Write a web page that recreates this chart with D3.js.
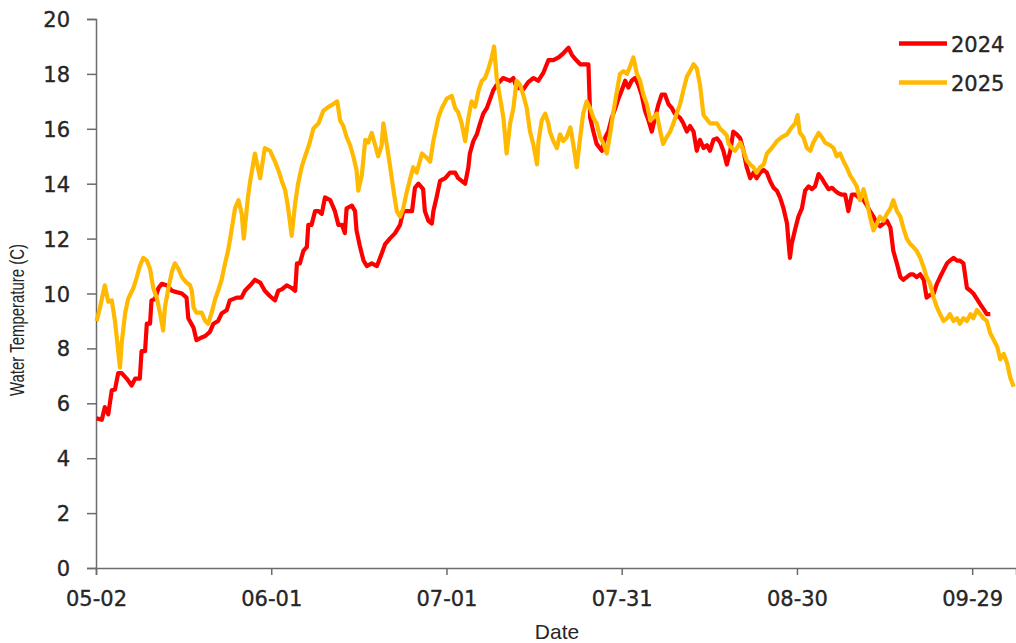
<!DOCTYPE html>
<html>
<head>
<meta charset="utf-8">
<script src="https://cdn.jsdelivr.net/npm/d3@7/dist/d3.min.js"></script>
<style>
  html, body { margin: 0; padding: 0; background: #fff; }
  svg { display: block; }
</style>
</head>
<body>
<svg id="chart" width="1016" height="643"></svg>
<script>
// Season axis: days since 05-02, labelled every 30 days
const tickDays = [0, 30, 60, 90, 120, 150];
const tickLabels = ["05-02", "06-01", "07-01", "07-31", "08-30", "09-29"];
const yTicks = [0, 2, 4, 6, 8, 10, 12, 14, 16, 18, 20];
const seriesNames = ["2024", "2025"];
const seriesColors = ["#ff0000", "#ffb900"];

// 2024 water temperature (C) by day offset from 05-02
const days2024 = [0.1, 1.0, 1.5, 2.1, 2.7, 3.25, 3.8, 4.4, 5.25, 6.1, 6.7, 7.5, 7.8, 8.4, 8.7, 9.25, 9.5, 10.1, 10.7, 11.25,
  12.1, 13.0, 13.8, 14.7, 15.5, 15.8, 16.7, 17.2, 18.1, 18.7, 19.5, 20.1, 20.9, 21.5, 22.4, 22.9, 24.1, 24.9, 25.5, 26.4,
  27.2, 28.1, 28.9, 29.8, 30.65, 31.2, 31.8, 32.65, 33.5, 34.1, 34.4, 34.9, 35.5, 36.1, 36.35, 36.9, 37.5, 38.1, 38.65, 39.2,
  40.1, 40.9, 41.5, 42.1, 42.6, 42.9, 43.8, 44.35, 44.6, 45.2, 45.8, 46.35, 47.2, 48.1, 48.9, 49.5, 50.3, 51.2, 52.05, 52.6,
  54.1, 54.6, 55.2, 56.0, 56.3, 56.9, 57.5, 57.75, 58.3, 58.9, 59.8, 60.6, 61.5, 62.0, 62.6, 63.2, 63.75, 64.0, 64.6, 65.2,
  65.75, 66.3, 66.9, 67.5, 68.0, 68.6, 69.7, 70.9, 71.45, 72.0, 73.2, 74.0, 74.9, 75.7, 76.6, 77.45, 78.3, 79.2, 80.0, 80.9,
  81.45, 82.0, 82.9, 84.3, 84.5, 84.6, 85.15, 85.7, 86.6, 87.2, 87.7, 88.3, 88.9, 89.45, 90.0, 90.6, 91.15, 91.7, 92.3, 92.85,
  93.4, 94.0, 94.6, 95.15, 95.7, 96.3, 96.85, 97.4, 98.0, 98.6, 99.1, 100.0, 100.55, 101.15, 101.7, 102.3, 102.85, 103.4, 104.0, 104.6,
  105.1, 105.7, 106.3, 106.85, 107.4, 108.0, 108.6, 109.1, 109.7, 110.3, 110.85, 111.4, 112.0, 112.55, 113.1, 113.7, 114.3, 114.85, 115.4, 116.0,
  116.55, 117.1, 117.7, 118.3, 118.55, 118.8, 119.1, 119.7, 120.25, 120.85, 121.4, 122.0, 122.55, 123.1, 123.7, 124.25, 124.8, 125.4, 126.0, 126.5,
  127.1, 127.7, 128.25, 128.8, 129.4, 130.0, 130.55, 131.4, 132.0, 132.5, 133.1, 133.7, 134.2, 134.8, 135.4, 136.0, 136.5, 137.1, 137.7, 138.2,
  138.8, 139.4, 139.9, 140.5, 141.1, 141.7, 142.2, 142.8, 143.4, 143.95, 144.5, 145.1, 145.7, 146.2, 146.8, 147.4, 147.9, 148.5, 149.1, 149.7,
  150.2, 150.8, 151.4, 151.9, 152.5, 153.1];
const temps2024 = [5.45, 5.4, 5.86, 5.6, 6.47, 6.5, 7.1, 7.1, 6.9, 6.65, 6.9, 6.9, 7.9, 7.9, 8.9, 8.9, 9.75, 9.8, 10.2, 10.35,
  10.3, 10.1, 10.05, 10.0, 9.85, 9.1, 8.75, 8.3, 8.4, 8.45, 8.6, 8.9, 9.0, 9.27, 9.4, 9.75, 9.85, 9.85, 10.1, 10.3,
  10.5, 10.4, 10.1, 9.9, 9.75, 10.1, 10.15, 10.3, 10.2, 10.1, 11.1, 11.1, 11.55, 11.7, 12.5, 12.5, 13.0, 13.0, 12.9, 13.5,
  13.4, 13.0, 12.5, 12.5, 12.2, 13.1, 13.2, 13.0, 12.3, 11.7, 11.2, 11.0, 11.1, 11.0, 11.45, 11.8, 12.0, 12.2, 12.5, 13.0,
  13.0, 13.85, 14.0, 13.8, 13.0, 12.65, 12.55, 13.0, 13.5, 14.1, 14.2, 14.4, 14.4, 14.2, 14.1, 14.0, 14.6, 15.1, 15.55, 15.8,
  16.2, 16.55, 16.75, 17.1, 17.4, 17.6, 17.85, 17.75, 17.85, 17.5, 17.45, 17.7, 17.85, 17.75, 18.05, 18.5, 18.5, 18.6, 18.75, 18.95,
  18.7, 18.55, 18.35, 18.35, 17.1, 16.4, 15.9, 15.45, 15.2, 15.7, 15.9, 16.4, 16.75, 17.1, 17.4, 17.75, 17.5, 17.75, 17.85, 17.6,
  17.25, 16.65, 16.3, 15.9, 16.4, 16.9, 17.25, 17.25, 16.9, 16.75, 16.55, 16.4, 16.2, 15.9, 16.1, 15.9, 15.2, 15.6, 15.3, 15.4,
  15.2, 15.6, 15.65, 15.5, 15.2, 14.7, 15.2, 15.9, 15.8, 15.65, 15.2, 14.6, 14.2, 14.4, 14.2, 14.4, 14.5, 14.4, 14.1, 13.85,
  13.75, 13.5, 13.1, 12.55, 11.9, 11.3, 11.8, 12.35, 12.8, 13.1, 13.75, 13.9, 13.8, 13.9, 14.35, 14.2, 14.0, 13.8, 13.85, 13.75,
  13.65, 13.6, 13.6, 13.0, 13.6, 13.6, 13.5, 13.4, 13.2, 13.0, 12.8, 12.55, 12.45, 12.55, 12.65, 12.4, 11.55, 11.1, 10.6, 10.5,
  10.6, 10.7, 10.7, 10.6, 10.7, 10.5, 9.85, 9.95, 10.0, 10.35, 10.6, 10.85, 11.1, 11.2, 11.3, 11.2, 11.2, 11.1, 10.2, 10.1,
  10.0, 9.8, 9.6, 9.45, 9.25, 9.25];

// 2025 water temperature (C) by day offset from 05-02
const days2025 = [0.1, 0.7, 1.5, 2.1, 2.7, 3.25, 3.8, 4.1, 4.4, 5.0, 5.5, 6.4, 7.0, 7.5, 8.1, 8.7, 9.25, 9.8, 10.4, 10.95,
  11.5, 11.8, 12.4, 13.0, 13.5, 14.1, 14.7, 15.5, 16.1, 16.4, 16.7, 17.2, 18.1, 18.7, 19.2, 19.8, 20.4, 20.9, 21.5, 22.1,
  22.65, 23.2, 23.8, 24.4, 24.95, 25.3, 26.0, 26.4, 27.2, 28.1, 28.9, 29.8, 30.65, 31.2, 31.8, 32.4, 32.9, 33.5, 34.1, 34.6,
  35.2, 35.8, 36.6, 37.2, 38.1, 38.9, 39.8, 40.6, 41.3, 41.8, 42.35, 42.9, 43.5, 44.05, 44.6, 44.9, 45.5, 46.1, 46.6, 47.2,
  47.8, 48.3, 48.9, 49.2, 49.8, 50.3, 50.9, 51.5, 52.05, 52.6, 53.2, 53.8, 54.3, 54.9, 55.8, 56.6, 57.2, 57.75, 58.6, 59.2,
  60.05, 60.9, 61.5, 62.0, 62.6, 63.2, 63.75, 64.3, 64.9, 65.5, 66.05, 66.6, 67.2, 67.75, 68.15, 68.6, 69.2, 69.75, 70.3, 70.9,
  71.45, 72.0, 72.6, 73.2, 73.75, 74.3, 74.9, 75.5, 75.75, 76.3, 76.9, 77.45, 77.7, 78.3, 78.9, 79.45, 80.0, 80.6, 81.2, 81.7,
  82.3, 82.9, 83.4, 84.0, 84.6, 85.15, 85.7, 86.3, 86.9, 87.45, 88.0, 88.6, 89.2, 89.7, 90.3, 90.9, 91.4, 92.0, 92.6, 93.15,
  93.7, 94.3, 94.9, 95.4, 96.0, 96.6, 97.1, 97.7, 98.3, 98.85, 99.4, 100.0, 100.55, 101.15, 101.7, 102.3, 102.85, 103.4, 104.0, 105.1,
  106.3, 106.85, 107.4, 108.0, 108.3, 108.85, 109.4, 110.3, 110.85, 111.4, 112.0, 112.55, 113.1, 113.7, 114.3, 114.85, 115.7, 116.55, 117.4, 118.3,
  119.1, 119.7, 120.1, 120.5, 121.1, 121.7, 122.3, 122.8, 123.7, 124.25, 124.8, 125.7, 126.25, 126.8, 127.4, 128.0, 128.5, 129.1, 129.7, 130.25,
  130.8, 131.4, 132.0, 132.5, 133.1, 133.7, 134.2, 134.8, 135.4, 136.0, 136.5, 137.1, 137.7, 138.2, 138.8, 139.4, 139.9, 140.5, 141.1, 141.7,
  142.2, 142.8, 143.4, 143.95, 144.5, 145.1, 145.7, 146.2, 146.8, 147.4, 147.9, 148.5, 149.1, 149.7, 150.2, 150.8, 151.4, 151.9, 152.5, 153.1,
  153.7, 154.3, 154.8, 155.4, 156.0, 156.5, 157.1];
const temps2025 = [9.0, 9.5, 10.3, 9.7, 9.75, 9.0, 7.9, 7.3, 8.2, 9.3, 9.8, 10.2, 10.6, 11.0, 11.3, 11.2, 10.9, 10.2, 9.85, 9.3,
  8.65, 9.5, 10.2, 10.8, 11.1, 10.9, 10.6, 10.4, 10.3, 10.1, 9.5, 9.3, 9.3, 9.0, 8.9, 9.3, 9.8, 10.1, 10.5, 11.1,
  11.6, 12.3, 13.1, 13.4, 12.9, 12.0, 13.5, 14.1, 15.1, 14.2, 15.3, 15.2, 14.8, 14.5, 14.1, 13.75, 13.1, 12.1, 13.3, 14.0,
  14.6, 15.0, 15.5, 16.0, 16.2, 16.65, 16.8, 16.9, 17.0, 16.3, 16.1, 15.7, 15.4, 15.0, 14.5, 13.75, 14.3, 15.6, 15.5, 15.85,
  15.4, 15.0, 15.4, 16.2, 15.4, 14.7, 13.8, 13.0, 12.8, 13.1, 13.7, 14.2, 14.6, 14.4, 15.1, 14.95, 14.8, 15.55, 16.4, 16.75,
  17.1, 17.2, 16.75, 16.6, 16.2, 15.55, 16.4, 17.0, 16.8, 17.4, 17.75, 17.85, 18.2, 18.6, 19.0, 17.85, 17.1, 16.4, 15.1, 16.2,
  16.75, 17.75, 17.6, 17.2, 16.75, 15.9, 15.4, 14.7, 15.55, 16.3, 16.55, 16.2, 15.9, 15.55, 15.3, 15.8, 15.55, 15.7, 16.05, 15.45,
  14.6, 15.7, 16.55, 17.0, 16.75, 16.4, 16.2, 15.7, 15.45, 15.1, 15.8, 16.65, 17.4, 18.0, 18.1, 18.0, 18.25, 18.6, 18.0, 17.75,
  17.25, 16.9, 16.3, 16.4, 16.55, 15.9, 15.45, 15.7, 15.9, 16.2, 16.55, 16.9, 17.4, 17.9, 18.1, 18.35, 18.2, 17.6, 16.5, 16.2,
  16.2, 16.0, 15.9, 15.75, 15.45, 15.3, 15.2, 15.5, 15.2, 14.85, 14.7, 14.6, 14.4, 14.6, 14.7, 15.1, 15.3, 15.55, 15.7, 15.8,
  16.05, 16.2, 16.5, 15.85, 15.7, 15.3, 15.2, 15.5, 15.85, 15.7, 15.5, 15.4, 15.3, 15.0, 15.1, 14.8, 14.6, 14.3, 14.1, 13.9,
  13.4, 13.8, 13.3, 12.8, 12.3, 12.55, 12.8, 12.65, 12.9, 13.1, 13.4, 13.0, 12.8, 12.4, 12.0, 11.8, 11.7, 11.55, 11.3, 10.95,
  10.6, 10.35, 9.85, 9.5, 9.25, 9.0, 9.1, 9.25, 9.0, 9.1, 8.9, 9.1, 9.0, 9.25, 9.1, 9.4, 9.25, 9.1, 9.0, 8.55,
  8.3, 8.05, 7.6, 7.8, 7.45, 6.95, 6.6];

const series = [
  { name: seriesNames[0], color: seriesColors[0], days: days2024, temps: temps2024 },
  { name: seriesNames[1], color: seriesColors[1], days: days2025, temps: temps2025 }
];

const svg = d3.select("#chart");
const W = 1016, H = 643;
const plot = { left: 96, right: 1016, top: 19, bottom: 568 };

svg.append("rect").attr("width", W).attr("height", H).attr("fill", "#ffffff");

const x = d3.scaleLinear().domain([0, 157.5]).range([plot.left, plot.right]);
const y = d3.scaleLinear().domain([0, 20]).range([plot.bottom, plot.top]);

const tickFont = "'DejaVu Sans', sans-serif";
const axisColor = "#6b6b6b";
const textColor = "#262626";

// Slightly heavier glyphs for the tick and legend labels
function heavy(sel) {
  sel.attr("stroke", textColor).attr("stroke-width", 0.35).attr("paint-order", "stroke");
}

// Y axis
const yAxis = svg.append("g")
  .attr("transform", `translate(${plot.left},0)`)
  .call(d3.axisLeft(y).tickValues(yTicks).tickSize(9).tickPadding(17).tickFormat(d3.format("d")));
yAxis.select(".domain").attr("stroke", axisColor).attr("stroke-width", 1.5);
yAxis.selectAll(".tick line").attr("stroke", axisColor).attr("stroke-width", 1.5);
yAxis.selectAll(".tick text")
  .attr("font-family", tickFont).attr("font-size", 21).attr("fill", textColor)
  .attr("dy", "0.36em").call(heavy);

// X axis
const xAxis = svg.append("g")
  .attr("transform", `translate(0,${plot.bottom})`)
  .call(d3.axisBottom(x).tickValues(tickDays).tickSize(7).tickPadding(16)
    .tickFormat((d, i) => tickLabels[i]));
xAxis.select(".domain").attr("stroke", axisColor).attr("stroke-width", 1.5);
xAxis.selectAll(".tick line").attr("stroke", axisColor).attr("stroke-width", 1.5);
xAxis.selectAll(".tick text")
  .attr("font-family", tickFont).attr("font-size", 21).attr("fill", textColor)
  .call(heavy);

// Axis titles
svg.append("text")
  .attr("transform", "translate(24,320) rotate(-90)")
  .attr("text-anchor", "middle")
  .attr("font-family", "'Liberation Sans Narrow', 'Liberation Sans', sans-serif")
  .attr("font-size", 21)
  .attr("textLength", 152).attr("lengthAdjust", "spacingAndGlyphs")
  .attr("fill", textColor)
  .text("Water Temperature (C)");

svg.append("text")
  .attr("x", 557).attr("y", 639)
  .attr("text-anchor", "middle")
  .attr("font-family", "'Liberation Sans', sans-serif")
  .attr("font-size", 21)
  .attr("fill", textColor)
  .text("Date");

// Series lines
const line = d3.line()
  .x(d => x(d[0]))
  .y(d => y(d[1]))
  .curve(d3.curveLinear);

series.forEach(s => {
  const pts = s.days.map((d, i) => [d, s.temps[i]]);
  svg.append("path")
    .datum(pts)
    .attr("fill", "none")
    .attr("stroke", s.color)
    .attr("stroke-width", 4.2)
    .attr("stroke-linejoin", "round")
    .attr("d", line);
});

// Legend
const legend = svg.append("g");
series.forEach((s, i) => {
  const ly = 43.5 + i * 39;
  legend.append("line")
    .attr("x1", 899).attr("x2", 947)
    .attr("y1", ly).attr("y2", ly)
    .attr("stroke", s.color).attr("stroke-width", 4.5);
  legend.append("text")
    .attr("x", 951).attr("y", ly + 8)
    .attr("font-family", tickFont).attr("font-size", 21)
    .attr("fill", textColor)
    .text(s.name)
    .call(heavy);
});
</script>
</body>
</html>
